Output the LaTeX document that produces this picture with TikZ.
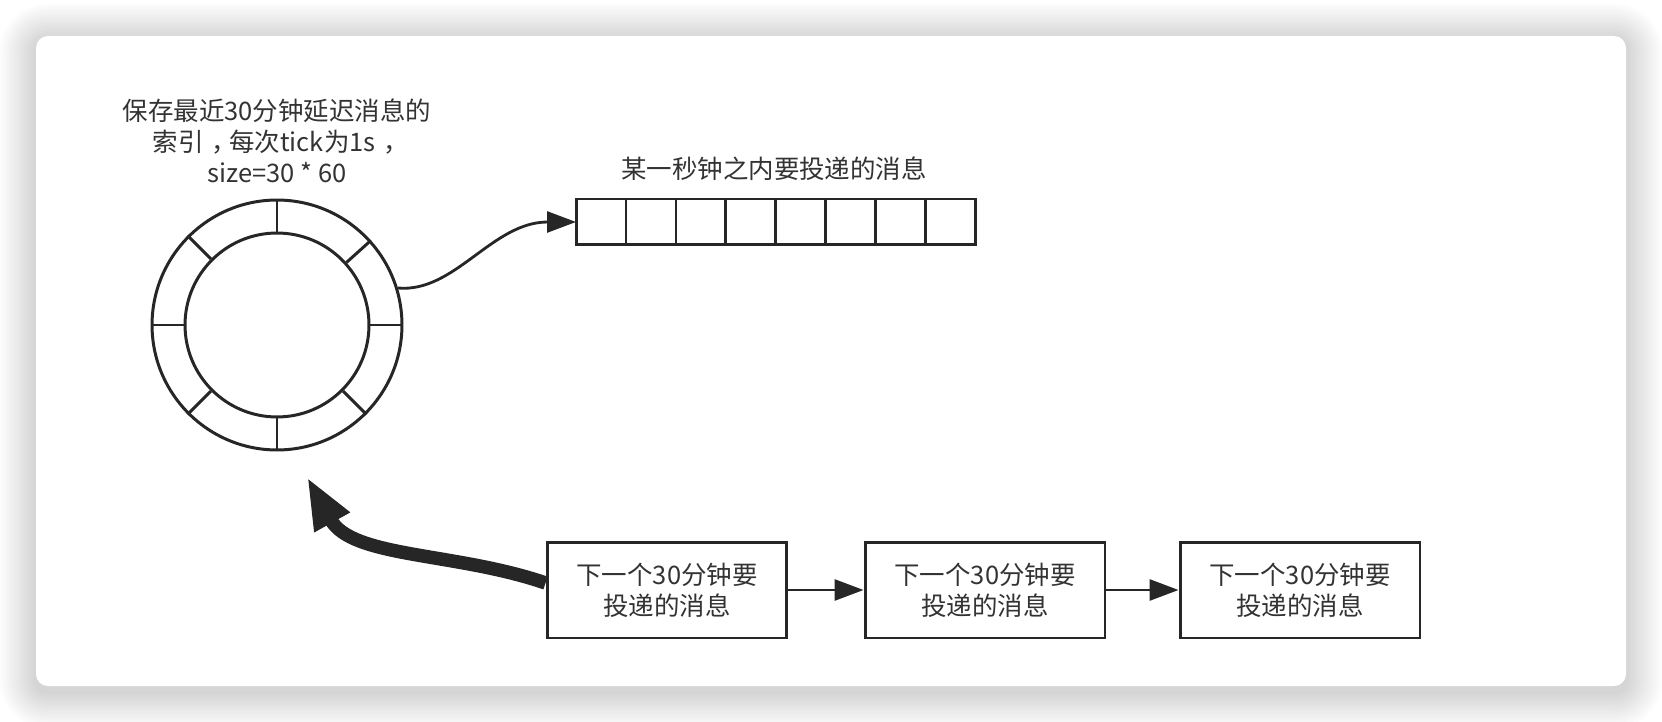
\documentclass[tikz,border=0pt]{standalone}
\usepackage{fontspec}
\setmainfont{Noto Sans CJK SC}
\usetikzlibrary{arrows.meta, positioning}
\definecolor{inkgray}{HTML}{262626}
\definecolor{textgray}{HTML}{333333}
\tikzset{
  cn/.style={font=\fontsize{14.5pt}{17.5pt}\selectfont, text=textgray,
             align=center, inner sep=0pt},
  ringline/.style={draw=inkgray, line width=1.7pt},
  cell/.style={draw=inkgray, line width=1.7pt, minimum width=1cm,
               minimum height=0.92cm, inner sep=0pt, outer sep=0pt},
  msgbox/.style={cn, draw=inkgray, line width=1.7pt, minimum width=4.8cm,
                 minimum height=1.92cm},
  link/.style={draw=inkgray, line width=1.6pt,
               -{Triangle[length=0.58cm, width=0.42cm]}},
  bigarrow/.style={draw=inkgray, line width=0.27cm,
                   -{Triangle[length=1.04cm, width=0.74cm]}},
}
\newcommand{\midcomma}{\kern0.3em，\kern-0.3em}

\begin{document}
\begin{tikzpicture}[x=0.02cm, y=-0.02cm]
    \useasboundingbox (0,0) rectangle (1662,722);
    \fill[white] (0,0) rectangle (1662,722);
    % soft shadow under the card
    \foreach \s [evaluate=\s as \r using 0.24+\s*0.052] in {1,...,14}
      \fill[black, opacity=0.012, rounded corners=\r cm]
        (36-\s*2.6, 40-\s*2.6) rectangle (1626+\s*2.6, 692+\s*2.6);
    \fill[white, rounded corners=0.24cm] (36,36) rectangle (1626,686);

    % the wheel
    \node[circle, ringline, minimum size=5cm, inner sep=0pt] (ring) at (277,325) {};
    \node[circle, ringline, minimum size=3.68cm, inner sep=0pt] (hub) at (ring.center) {};
    \foreach \a in {0,42,90,135,180,225,270,315}
      \draw[ringline] (hub.\a) -- (ring.\a);
    \node[cn] (ringnote) at (277,141)
      {保存最近30分钟延迟消息的\\索引\midcomma 每次tick为1s\midcomma\\size=30 * 60};

    % slots of one second
    \node[cell] (c1) at (601,222) {};
    \foreach \i [remember=\i as \j (initially 1)] in {2,...,8}
      \node[cell, right=0pt of c\j] (c\i) {};
    \node[cn] (slotnote) at (774,169) {某一秒钟之内要投递的消息};
    \draw[link] (ring.17) .. controls (455,293) and (492,222) .. (c1.west);

    % queue of later messages
    \node[msgbox] (next1) at (667,590) {下一个30分钟要\\投递的消息};
    \node[msgbox] (next2) at (985,590) {下一个30分钟要\\投递的消息};
    \node[msgbox] (next3) at (1300,590) {下一个30分钟要\\投递的消息};
    \draw[link] (next1) -- (next2);
    \draw[link] (next2) -- (next3);
    \coordinate (ringin) at (307,477);
    \draw[bigarrow] ([yshift=0.14cm]next1.west)
      .. controls (455,552) and (352,558) .. (ringin);
  \end{tikzpicture}
\end{document}
